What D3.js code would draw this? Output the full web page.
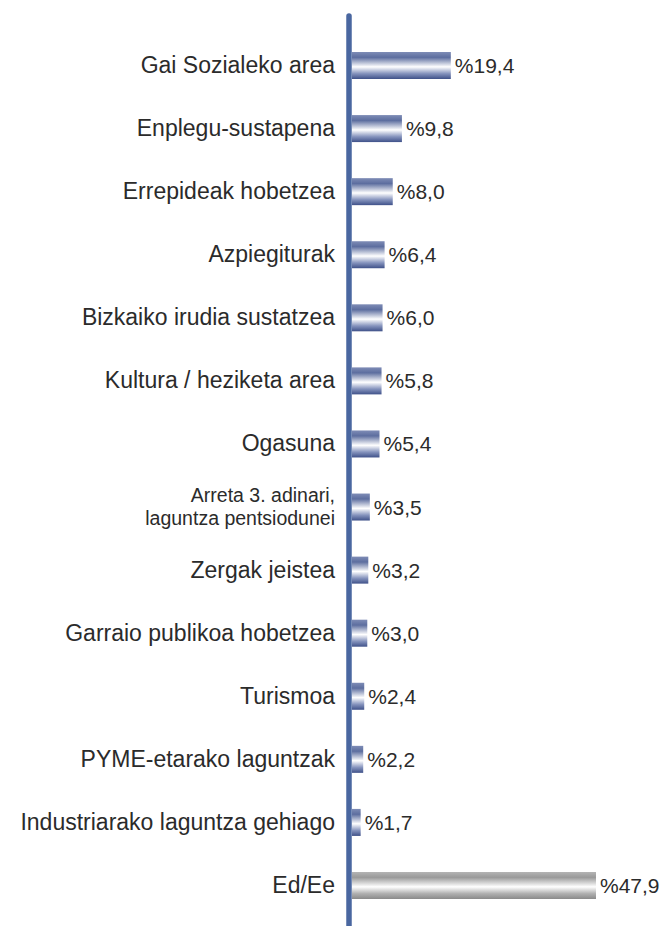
<!DOCTYPE html>
<html>
<head>
<meta charset="utf-8">
<script src="https://cdn.jsdelivr.net/npm/d3@7"></script>
<style>
  body { margin: 0; background: #fff; }
  text { font-family: "Liberation Sans", Arial, sans-serif; fill: #2b2b2b; }
</style>
</head>
<body>
<div id="plot"></div>
<script>
var categories = [
  "Gai Sozialeko area",
  "Enplegu-sustapena",
  "Errepideak hobetzea",
  "Azpiegiturak",
  "Bizkaiko irudia sustatzea",
  "Kultura / heziketa area",
  "Ogasuna",
  "Arreta 3. adinari,|laguntza pentsiodunei",
  "Zergak jeistea",
  "Garraio publikoa hobetzea",
  "Turismoa",
  "PYME-etarako laguntzak",
  "Industriarako laguntza gehiago",
  "Ed/Ee"
];
var values = [19.4, 9.8, 8.0, 6.4, 6.0, 5.8, 5.4, 3.5, 3.2, 3.0, 2.4, 2.2, 1.7, 47.9];
var valueLabels = ["%19,4", "%9,8", "%8,0", "%6,4", "%6,0", "%5,8", "%5,4", "%3,5", "%3,2", "%3,0", "%2,4", "%2,2", "%1,7", "%47,9"];
var greyCategory = "Ed/Ee";

var width = 667, height = 926;
var axisX = 349;
var barX = 352;
var barH = 27;
var labelX = 335;

var svg = d3.select("#plot").append("svg")
  .attr("width", width)
  .attr("height", height);

var defs = svg.append("defs");

function gradient(id, stops) {
  var g = defs.append("linearGradient")
    .attr("id", id)
    .attr("x1", 0).attr("y1", 0).attr("x2", 0).attr("y2", 1);
  stops.forEach(function(s) {
    g.append("stop").attr("offset", s[0]).attr("stop-color", s[1]);
  });
}
gradient("blueGrad", [[0, "#7e8cb6"], [0.2, "#5d6e9f"], [0.55, "#ffffff"], [0.8, "#8593bd"], [1, "#3f5189"]]);
gradient("greyGrad", [[0, "#b4b4b4"], [0.2, "#9a9a9a"], [0.55, "#ffffff"], [0.8, "#b0b0b0"], [1, "#8a8a8a"]]);

var xScale = d3.scaleLinear()
  .domain([0, 47.9])
  .range([barX, 596]);

var yScale = d3.scalePoint()
  .domain(categories)
  .range([65.5, 885.5]);

// bars
svg.append("g").selectAll("rect")
  .data(categories)
  .enter().append("rect")
  .attr("x", xScale(0))
  .attr("y", function(d) { return yScale(d) - barH / 2; })
  .attr("width", function(d, i) { return xScale(values[i]) - xScale(0); })
  .attr("height", barH)
  .attr("fill", function(d) { return d === greyCategory ? "url(#greyGrad)" : "url(#blueGrad)"; });

// value labels
svg.append("g").selectAll("text")
  .data(categories)
  .enter().append("text")
  .attr("x", function(d, i) { return xScale(values[i]) + 4; })
  .attr("y", function(d) { return yScale(d) + 7.5; })
  .attr("font-size", 21)
  .text(function(d, i) { return valueLabels[i]; });

// category labels (two-line one gets its own text per line)
var labelGroup = svg.append("g");
categories.forEach(function(d) {
  var lines = d.split("|");
  var y0 = lines.length > 1 ? yScale(d) - 5 : yScale(d) + 7.5;
  lines.forEach(function(line, k) {
    labelGroup.append("text")
      .attr("x", labelX)
      .attr("y", y0 + k * 22.5)
      .attr("text-anchor", "end")
      .attr("font-size", lines.length > 1 ? 19.5 : 23)
      .text(line);
  });
});

// axis line
svg.append("line")
  .attr("x1", axisX).attr("x2", axisX)
  .attr("y1", 16).attr("y2", height)
  .attr("stroke", "#4a67a0")
  .attr("stroke-width", 5.5)
  .attr("stroke-linecap", "round");
</script>
</body>
</html>
